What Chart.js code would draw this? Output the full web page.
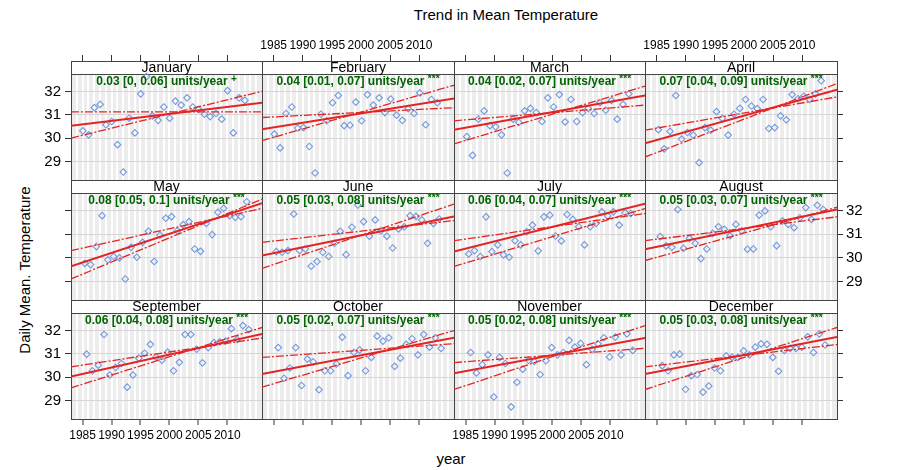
<!DOCTYPE html>
<html>
<head>
<meta charset="utf-8">
<script src="https://cdn.jsdelivr.net/npm/chart.js@4.4.1/dist/chart.umd.min.js"></script>
<style>
  body { margin: 0; width: 903px; height: 470px; position: relative; overflow: hidden; background: #fff;
         font-family: "Liberation Sans", Arial, sans-serif; }
  canvas { position: absolute; pointer-events: none; }
  .lbl { position: absolute; font-size: 15px; color: #000; white-space: nowrap; transform: translate(-50%, -50%); }
</style>
</head>
<body>
<div class="lbl" style="left:506px; top:14px;">Trend in Mean Temperature</div>
<div class="lbl" style="left:24px; top:270px; transform: translate(-50%, -50%) rotate(-90deg);">Daily Mean. Temperature</div>
<div class="lbl" style="left:451px; top:458px;">year</div>
<div id="panels"></div>
<script>
// monthly mean of daily temperature, one value per year
const months = ["January", "February", "March", "April", "May", "June",
  "July", "August", "September", "October", "November", "December"];
const years = [1985, 1986, 1987, 1988, 1989, 1990, 1991, 1992, 1993, 1994, 1995, 1996, 1997, 1998,
  1999, 2000, 2001, 2002, 2003, 2004, 2005, 2006, 2007, 2008, 2009, 2010, 2011, 2012, 2013];

const tJan = [30.32, 30.15, 31.31, 31.45, 30.58, 30.72, 29.73, 28.56, 30.86, 30.23, 31.90, 32.64, 30.96, 30.77, 31.34, 30.86, 31.59, 31.42, 31.73, 31.34, 31.24, 31.03, 30.93, 31.06, 30.82, 32.04, 30.23, 31.73, 31.62];
const tFeb = [30.18, 29.59, 31.06, 31.34, 30.44, 30.46, 29.65, 28.52, 31.03, 30.75, 31.52, 31.83, 30.54, 30.56, 31.55, 30.75, 31.87, 31.42, 31.73, 31.10, 31.68, 30.99, 30.77, 31.27, 31.06, 31.94, 30.58, 31.66, 31.52];
const tMar = [30.07, 29.27, 30.82, 31.17, 30.54, 30.49, 30.15, 28.52, 30.82, 30.68, 31.17, 31.28, 31.10, 30.72, 31.73, 31.34, 31.87, 30.70, 31.66, 30.72, 31.10, 31.28, 31.06, 31.52, 31.20, 31.62, 30.82, 31.45, 31.90];
const tApr = [30.37, 29.55, 30.30, 31.83, 29.97, 30.25, 30.14, 28.96, 30.46, 30.35, 31.14, 30.85, 30.14, 31.03, 31.28, 31.66, 31.38, 31.27, 31.66, 30.42, 30.46, 30.96, 30.79, 31.87, 31.69, 31.80, 31.66, 31.90, 32.46];
const tMay = [29.77, 29.72, 30.48, 31.79, 29.92, 30.06, 30.00, 29.11, 30.45, 30.03, 30.66, 31.13, 29.85, 30.97, 31.68, 31.75, 31.15, 31.41, 31.54, 30.38, 30.28, 31.46, 30.99, 31.93, 32.10, 31.79, 31.72, 31.75, 32.38];
const tJun = [30.27, 30.24, 30.31, 31.86, 30.31, 30.38, 29.65, 29.85, 30.24, 30.06, 30.62, 31.13, 30.14, 31.30, 32.24, 31.54, 30.92, 31.61, 31.15, 30.92, 30.42, 31.23, 31.32, 31.79, 31.76, 31.61, 30.62, 31.46, 31.65];
const tJul = [30.17, 30.31, 30.06, 31.74, 30.27, 30.55, 30.13, 30.03, 30.73, 30.55, 31.11, 31.39, 30.30, 31.74, 31.81, 30.93, 30.72, 31.84, 31.63, 31.32, 30.55, 31.32, 31.46, 31.95, 31.78, 31.95, 31.39, 31.91, 31.88];
const tAug = [30.90, 30.51, 30.45, 32.05, 30.41, 30.83, 30.62, 29.97, 30.38, 31.04, 31.32, 31.21, 30.94, 31.42, 31.15, 30.37, 30.38, 31.81, 31.99, 31.32, 30.52, 31.57, 31.42, 31.28, 31.70, 32.13, 31.63, 32.23, 32.05];
const tSep = [30.99, 30.28, 30.52, 31.83, 30.10, 30.42, 30.59, 29.58, 30.10, 30.82, 31.03, 31.41, 30.87, 30.73, 31.08, 30.28, 30.64, 31.83, 31.83, 31.20, 30.62, 31.27, 31.48, 31.52, 31.55, 32.08, 31.62, 32.21, 32.04];
const tOct = [31.27, 29.96, 30.40, 31.27, 29.65, 30.78, 30.66, 29.47, 30.28, 30.28, 30.57, 31.72, 30.07, 31.06, 31.17, 30.28, 30.85, 31.76, 31.55, 31.69, 30.47, 30.82, 31.41, 31.65, 30.96, 31.83, 31.29, 31.69, 31.24];
const tNov = [31.06, 30.19, 30.54, 30.96, 29.16, 30.85, 30.59, 28.74, 29.79, 30.35, 30.73, 30.68, 30.12, 30.71, 31.27, 30.96, 31.06, 31.58, 31.29, 31.45, 30.54, 31.20, 31.43, 31.69, 30.87, 31.72, 30.96, 31.86, 31.15];
const tDec = [30.50, 30.28, 30.96, 30.99, 29.49, 30.07, 30.12, 29.37, 29.63, 30.40, 30.28, 30.92, 30.85, 30.85, 31.13, 30.96, 31.29, 31.43, 31.41, 30.85, 30.26, 31.15, 31.24, 31.24, 31.29, 31.73, 31.06, 31.86, 31.38];
const monthly = [tJan, tFeb, tMar, tApr, tMay, tJun, tJul, tAug, tSep, tOct, tNov, tDec];

// Theil-Sen slope and its interval, as printed in each panel
const slope = [0.03, 0.04, 0.04, 0.07, 0.08, 0.05, 0.06, 0.05, 0.06, 0.05, 0.05, 0.05];
const slopeLow = [0, 0.01, 0.02, 0.04, 0.05, 0.03, 0.04, 0.03, 0.04, 0.02, 0.02, 0.03];
const slopeHigh = [0.06, 0.07, 0.07, 0.09, 0.1, 0.08, 0.07, 0.07, 0.08, 0.07, 0.08, 0.08];
const signif = ["+", "***", "***", "***", "***", "***", "***", "***", "***", "***", "***", "***"];

// trend lines: value at the left (1983) and right (2016) edge of each panel
const trendFrom = [30.54, 30.39, 30.37, 29.79, 29.65, 30.10, 30.27, 30.37, 30.03, 30.14, 30.17, 30.14];
const trendTo = [31.52, 31.70, 31.83, 32.08, 32.32, 31.75, 32.30, 32.05, 31.85, 31.69, 31.68, 31.72];
const lowFrom = [31.13, 30.89, 30.75, 30.35, 30.31, 30.66, 30.73, 30.73, 30.45, 30.85, 30.63, 30.45];
const lowTo = [31.13, 31.31, 31.42, 31.77, 32.10, 31.58, 31.88, 31.74, 31.68, 31.44, 31.24, 31.40];
const highFrom = [30.01, 29.90, 29.76, 29.20, 29.11, 29.56, 29.64, 29.89, 29.55, 29.58, 29.48, 29.48];
const highTo = [32.01, 32.27, 32.23, 32.34, 32.49, 32.28, 32.09, 32.15, 32.13, 32.00, 32.21, 32.13];

const xTicks = [1985, 1990, 1995, 2000, 2005, 2010];
const yTicks = [29, 30, 31, 32];
const xMin = 1983, xMax = 2016;
const yMin = 28.22, yMax = 32.77;

// lattice layout (pixels)
const colLeft = [71, 262, 454, 645], colRight = [262, 454, 645, 837];
const rowTop = [61, 180, 300], rowBottom = [180, 300, 419];
const ML = 46, MR = 46, MT = 32, MB = 32;
const STRIP = 12.5;

const RED = "#e42323";
const EDGE = "#444";
const NONE = "rgba(0,0,0,0)";

Chart.defaults.font.family = "'Liberation Sans', Arial, sans-serif";
Chart.defaults.color = "#000";

const gridYears = [];
for (let yr = xMin + 1; yr < xMax; yr++) gridYears.push(yr);

const panelBg = {
  id: "panelBg",
  beforeDraw(chart) {
    const a = chart.chartArea, c = chart.ctx;
    c.save();
    c.fillStyle = "#ededed";
    c.fillRect(a.left, a.top, a.right - a.left, a.bottom - a.top);
    c.restore();
  }
};

const strip = {
  id: "strip",
  beforeDatasetsDraw(chart, args, opts) {
    const a = chart.chartArea, c = chart.ctx;
    const sb = Math.round(chart.scales.y.getPixelForValue(yMax));
    c.save();
    c.fillStyle = "#fff";
    c.fillRect(a.left, a.top, a.right - a.left, sb - a.top);
    c.strokeStyle = EDGE;
    c.lineWidth = 1;
    c.strokeRect(a.left + 0.5, a.top + 0.5, a.right - a.left, sb - a.top);
    c.fillStyle = "#000";
    c.font = "14px 'Liberation Sans', Arial, sans-serif";
    c.textAlign = "center";
    c.textBaseline = "middle";
    c.fillText(opts.label, (a.left + a.right) / 2, (a.top + sb) / 2 + 1);
    c.restore();
  },
  afterDatasetsDraw(chart, args, opts) {
    const a = chart.chartArea, c = chart.ctx;
    const sb = chart.scales.y.getPixelForValue(yMax);
    c.save();
    c.fillStyle = "#006400";
    c.textBaseline = "middle";
    c.textAlign = "left";
    const main = opts.text + " ";
    c.font = "bold 12px 'Liberation Sans', Arial, sans-serif";
    const w1 = c.measureText(main).width;
    c.font = "bold 10px 'Liberation Sans', Arial, sans-serif";
    const w2 = c.measureText(opts.stars).width;
    const x0 = (a.left + a.right) / 2 - (w1 + w2) / 2;
    const ty = sb + 8;
    c.font = "bold 12px 'Liberation Sans', Arial, sans-serif";
    c.fillText(main, x0, ty);
    c.font = "bold 10px 'Liberation Sans', Arial, sans-serif";
    c.fillText(opts.stars, x0 + w1, ty - 2);
    c.restore();
  }
};

const holder = document.getElementById("panels");

months.forEach((name, i) => {
  const r = Math.floor(i / 4), col = i % 4;
  const w = colRight[col] - colLeft[col], h = rowBottom[r] - rowTop[r];
  const canvas = document.createElement("canvas");
  canvas.width = w + ML + MR;
  canvas.height = h + MT + MB;
  canvas.style.left = (colLeft[col] - ML) + "px";
  canvas.style.top = (rowTop[r] - MT) + "px";
  canvas.style.width = canvas.width + "px";
  canvas.style.height = canvas.height + "px";
  holder.appendChild(canvas);

  // the strip sits inside the chart area, above the data region
  const yTop = yMin + (yMax - yMin) * h / (h - STRIP);

  const points = years.map((yr, k) => ({ x: yr + (i + 0.5) / 12, y: monthly[i][k] }));
  const line = (a, b) => [{ x: xMin, y: a }, { x: xMax, y: b }];

  const showBottom = r === 2, showLeft = col === 0, showTop = r === 0, showRight = col === 3;
  const tickFont = { size: 12 };

  new Chart(canvas, {
    type: "scatter",
    data: {
      datasets: [
        { data: line(trendFrom[i], trendTo[i]), showLine: true, borderColor: RED, borderWidth: 2, pointRadius: 0 },
        { data: line(lowFrom[i], lowTo[i]), showLine: true, borderColor: RED, borderWidth: 1.3, borderDash: [8, 2, 2, 2], pointRadius: 0 },
        { data: line(highFrom[i], highTo[i]), showLine: true, borderColor: RED, borderWidth: 1.3, borderDash: [8, 2, 2, 2], pointRadius: 0 },
        { data: points, pointStyle: "rectRot", radius: 3.3, borderWidth: 1.1, borderColor: "#7399dd", backgroundColor: NONE }
      ]
    },
    options: {
      responsive: false,
      animation: false,
      events: [],
      layout: { padding: 0 },
      scales: {
        x: {
          type: "linear", position: "bottom", min: xMin, max: xMax,
          afterBuildTicks: s => { s.ticks = gridYears.map(v => ({ value: v })); },
          afterFit: s => { s.height = MB; },
          grid: {
            color: "#fff", lineWidth: 2, tickLength: 6, tickWidth: 1,
            tickColor: ctx => (showBottom && xTicks.includes(ctx.tick.value)) ? "#333" : NONE
          },
          border: { display: true, color: EDGE, width: 1 },
          ticks: {
            autoSkip: false, maxRotation: 0, minRotation: 0, padding: 3, font: tickFont,
            display: showBottom && (col === 0 || col === 2),
            callback: v => xTicks.includes(v) ? String(v) : ""
          }
        },
        xTop: {
          type: "linear", position: "top", min: xMin, max: xMax,
          afterBuildTicks: s => { s.ticks = xTicks.map(v => ({ value: v })); },
          afterFit: s => { s.height = MT; },
          grid: { drawOnChartArea: false, tickLength: 6, tickColor: showTop ? "#333" : NONE },
          border: { display: true, color: EDGE, width: 1 },
          ticks: {
            autoSkip: false, maxRotation: 0, minRotation: 0, padding: 2, font: tickFont,
            display: showTop && (col === 1 || col === 3),
            callback: v => String(v)
          }
        },
        y: {
          type: "linear", position: "left", min: yMin, max: yTop,
          afterBuildTicks: s => { s.ticks = yTicks.map(v => ({ value: v })); },
          afterFit: s => { s.width = ML; },
          grid: { color: "#d6d6d6", lineWidth: 1, tickLength: 6, tickColor: showLeft ? "#333" : NONE },
          border: { display: true, color: EDGE, width: 1 },
          ticks: { padding: 4, font: { size: 15 }, display: showLeft && r !== 1 }
        },
        yRight: {
          type: "linear", position: "right", min: yMin, max: yTop,
          afterBuildTicks: s => { s.ticks = yTicks.map(v => ({ value: v })); },
          afterFit: s => { s.width = MR; },
          grid: { drawOnChartArea: false, tickLength: 6, tickColor: showRight ? "#333" : NONE },
          border: { display: true, color: EDGE, width: 1 },
          ticks: { padding: 3, font: { size: 15 }, display: showRight && r === 1 }
        }
      },
      plugins: {
        legend: { display: false },
        tooltip: { enabled: false },
        strip: {
          label: name,
          text: slope[i] + " [" + slopeLow[i] + ", " + slopeHigh[i] + "] units/year",
          stars: signif[i]
        }
      }
    },
    plugins: [panelBg, strip]
  });
});
</script>
</body>
</html>
